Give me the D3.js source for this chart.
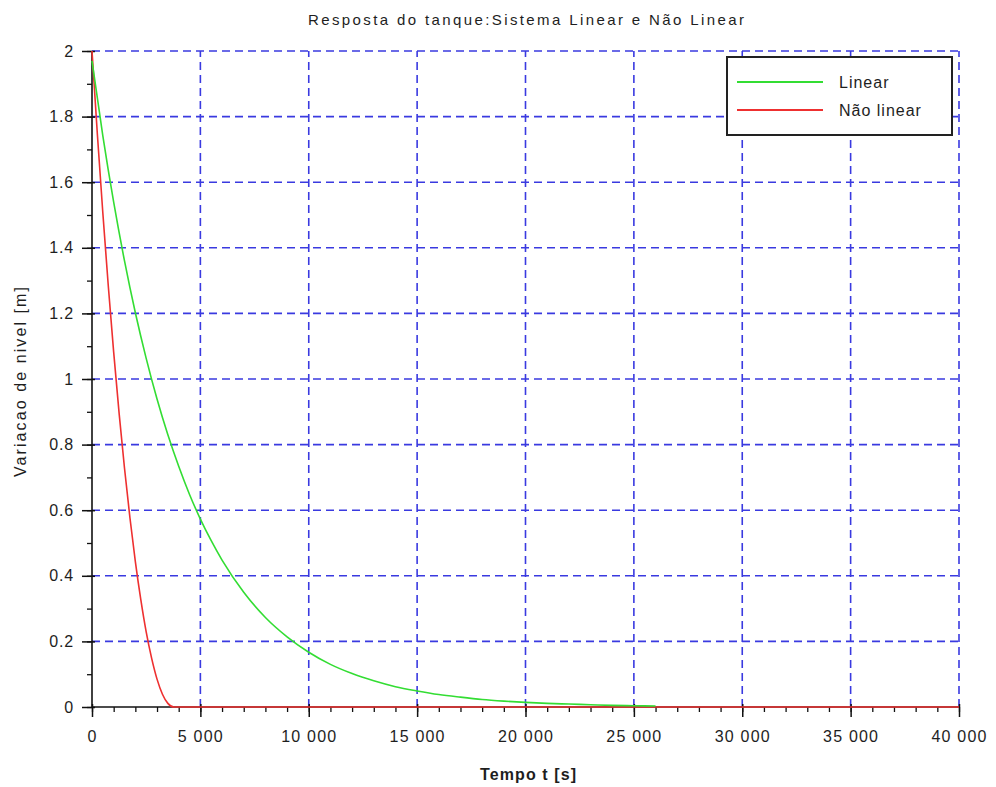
<!DOCTYPE html>
<html>
<head>
<meta charset="utf-8">
<script src="https://cdn.jsdelivr.net/npm/d3@7"></script>
<style>
  html, body { margin: 0; padding: 0; background: #ffffff; }
  svg { display: block; }
  text { font-family: "Liberation Sans", Arial, sans-serif; fill: #1e1e1e; }
</style>
</head>
<body>
<svg id="chart" width="996" height="787"></svg>
<script>
// ---- data ----
const title = "Resposta do tanque:Sistema Linear e Não Linear";
const xLabel = "Tempo t [s]";
const yLabel = "Variacao de nivel [m]";
const seriesNames = ["Linear", "Não linear"];

const linearT = [0, 500, 1000, 1500, 2000, 2500, 3000, 3500, 4000, 4500, 5000, 5500, 6000,
  7000, 8000, 9000, 10000, 11000, 12000, 13000, 14000, 15000, 16000, 17000, 18000,
  19000, 20000, 21000, 22000, 23000, 24000, 25000, 26000];
const linearH = [1.97, 1.741, 1.539, 1.360, 1.202, 1.063, 0.939, 0.830, 0.734, 0.648, 0.573,
  0.507, 0.448, 0.350, 0.273, 0.214, 0.167, 0.130, 0.102, 0.080, 0.062, 0.049, 0.038,
  0.030, 0.023, 0.018, 0.014, 0.011, 0.009, 0.007, 0.005, 0.004, 0.003];

const nonlinearT = [0, 250, 500, 750, 1000, 1250, 1500, 1750, 2000, 2250, 2500, 2750,
  3000, 3250, 3500, 3780, 40000];
const nonlinearH = [2, 1.744, 1.506, 1.285, 1.082, 0.896, 0.728, 0.577, 0.443, 0.328,
  0.229, 0.149, 0.085, 0.039, 0.011, 0, 0];

const xTicks = [0, 5000, 10000, 15000, 20000, 25000, 30000, 35000, 40000];
const xTickLabels = ["0", "5 000", "10 000", "15 000", "20 000", "25 000", "30 000", "35 000", "40 000"];
const yTicks = [0, 0.2, 0.4, 0.6, 0.8, 1, 1.2, 1.4, 1.6, 1.8, 2];
const yTickLabels = ["0", "0.2", "0.4", "0.6", "0.8", "1", "1.2", "1.4", "1.6", "1.8", "2"];
const xMinor = d3.range(0, 40001, 1000);
const yMinor = d3.range(0, 2.0001, 0.1);

const colors = ["#33dd33", "#ee3030"];

// ---- layout ----
const svg = d3.select("#chart");
const pLeft = 92, pRight = 959, pTop = 51, pBottom = 707;
const x = d3.scaleLinear().domain([0, 40000]).range([pLeft, pRight]);
const y = d3.scaleLinear().domain([0, 2]).range([pBottom, pTop]);

// grid
const gridColor = "#3a3ae0";
const grid = svg.append("g");
grid.selectAll("line.v").data(xTicks.slice(1)).enter().append("line")
  .attr("x1", d => x(d)).attr("x2", d => x(d))
  .attr("y1", pBottom).attr("y2", pTop)
  .attr("stroke", gridColor).attr("stroke-width", 1.6)
  .attr("stroke-dasharray", "8,5");
grid.selectAll("line.h").data(yTicks.slice(1)).enter().append("line")
  .attr("x1", pLeft).attr("x2", pRight)
  .attr("y1", d => y(d)).attr("y2", d => y(d))
  .attr("stroke", gridColor).attr("stroke-width", 1.6)
  .attr("stroke-dasharray", "8,5");

// axes
const xAxis = svg.append("g").attr("transform", `translate(0,${pBottom})`);
xAxis.call(d3.axisBottom(x).tickValues(xMinor).tickSize(5).tickFormat(""))
  .call(g => g.select(".domain").remove())
  .call(g => g.selectAll("line").attr("stroke", "#111").attr("stroke-width", 1.3));
const xMajor = svg.append("g").attr("transform", `translate(0,${pBottom})`);
xMajor.call(d3.axisBottom(x).tickValues(xTicks).tickSize(10).tickPadding(14)
    .tickFormat((d, i) => xTickLabels[i]))
  .call(g => g.select(".domain").remove())
  .call(g => g.selectAll("line").attr("stroke", "#111").attr("stroke-width", 1.5).attr("y1", -3))
  .call(g => g.selectAll("text").attr("font-size", 16).attr("letter-spacing", "1.2px")
    .attr("fill", "#1e1e1e").style("font-family", "'Liberation Sans', Arial, sans-serif"));

const yAxis = svg.append("g").attr("transform", `translate(${pLeft},0)`);
yAxis.call(d3.axisLeft(y).tickValues(yMinor).tickSize(5).tickFormat(""))
  .call(g => g.select(".domain").remove())
  .call(g => g.selectAll("line").attr("stroke", "#111").attr("stroke-width", 1.3));
const yMajor = svg.append("g").attr("transform", `translate(${pLeft},0)`);
yMajor.call(d3.axisLeft(y).tickValues(yTicks).tickSize(10).tickPadding(8)
    .tickFormat((d, i) => yTickLabels[i]))
  .call(g => g.select(".domain").remove())
  .call(g => g.selectAll("line").attr("stroke", "#111").attr("stroke-width", 1.5).attr("x1", 3))
  .call(g => g.selectAll("text").attr("font-size", 16).attr("letter-spacing", "0.8px")
    .attr("fill", "#1e1e1e").style("font-family", "'Liberation Sans', Arial, sans-serif"));

// axis lines
svg.append("line").attr("x1", pLeft).attr("x2", pLeft).attr("y1", pTop).attr("y2", pBottom)
  .attr("stroke", "#111").attr("stroke-width", 1.6);
svg.append("line").attr("x1", pLeft).attr("x2", pRight).attr("y1", pBottom).attr("y2", pBottom)
  .attr("stroke", "#111").attr("stroke-width", 1.6);

// curves
const line = d3.line().x(d => x(d[0])).y(d => y(d[1])).curve(d3.curveMonotoneX);
svg.append("path").datum(d3.zip(nonlinearT, nonlinearH))
  .attr("d", line).attr("fill", "none").attr("stroke", colors[1]).attr("stroke-width", 1.6);
svg.append("path").datum(d3.zip(linearT, linearH))
  .attr("d", line).attr("fill", "none").attr("stroke", colors[0]).attr("stroke-width", 1.6);

// title & labels
svg.append("text").attr("x", 526).attr("y", 25).attr("text-anchor", "middle")
  .attr("font-size", 15).attr("textLength", 436).attr("lengthAdjust", "spacing").text(title);
svg.append("text").attr("x", 528).attr("y", 780).attr("text-anchor", "middle")
  .attr("font-size", 16).attr("font-weight", "bold").attr("textLength", 96)
  .attr("lengthAdjust", "spacing").text(xLabel);
svg.append("text").attr("transform", "translate(26,382) rotate(-90)").attr("text-anchor", "middle")
  .attr("font-size", 16).attr("textLength", 190).attr("lengthAdjust", "spacing").text(yLabel);

// legend
const lg = svg.append("g");
lg.append("rect").attr("x", 727).attr("y", 57).attr("width", 225).attr("height", 78)
  .attr("fill", "#ffffff").attr("stroke", "#222").attr("stroke-width", 2);
const legendY = [82, 110];
seriesNames.forEach((name, i) => {
  lg.append("line").attr("x1", 737).attr("x2", 823).attr("y1", legendY[i]).attr("y2", legendY[i])
    .attr("stroke", colors[i]).attr("stroke-width", 2);
  lg.append("text").attr("x", 839).attr("y", legendY[i] + 5.5).attr("font-size", 16)
    .attr("letter-spacing", "1px").text(name);
});
</script>
</body>
</html>
